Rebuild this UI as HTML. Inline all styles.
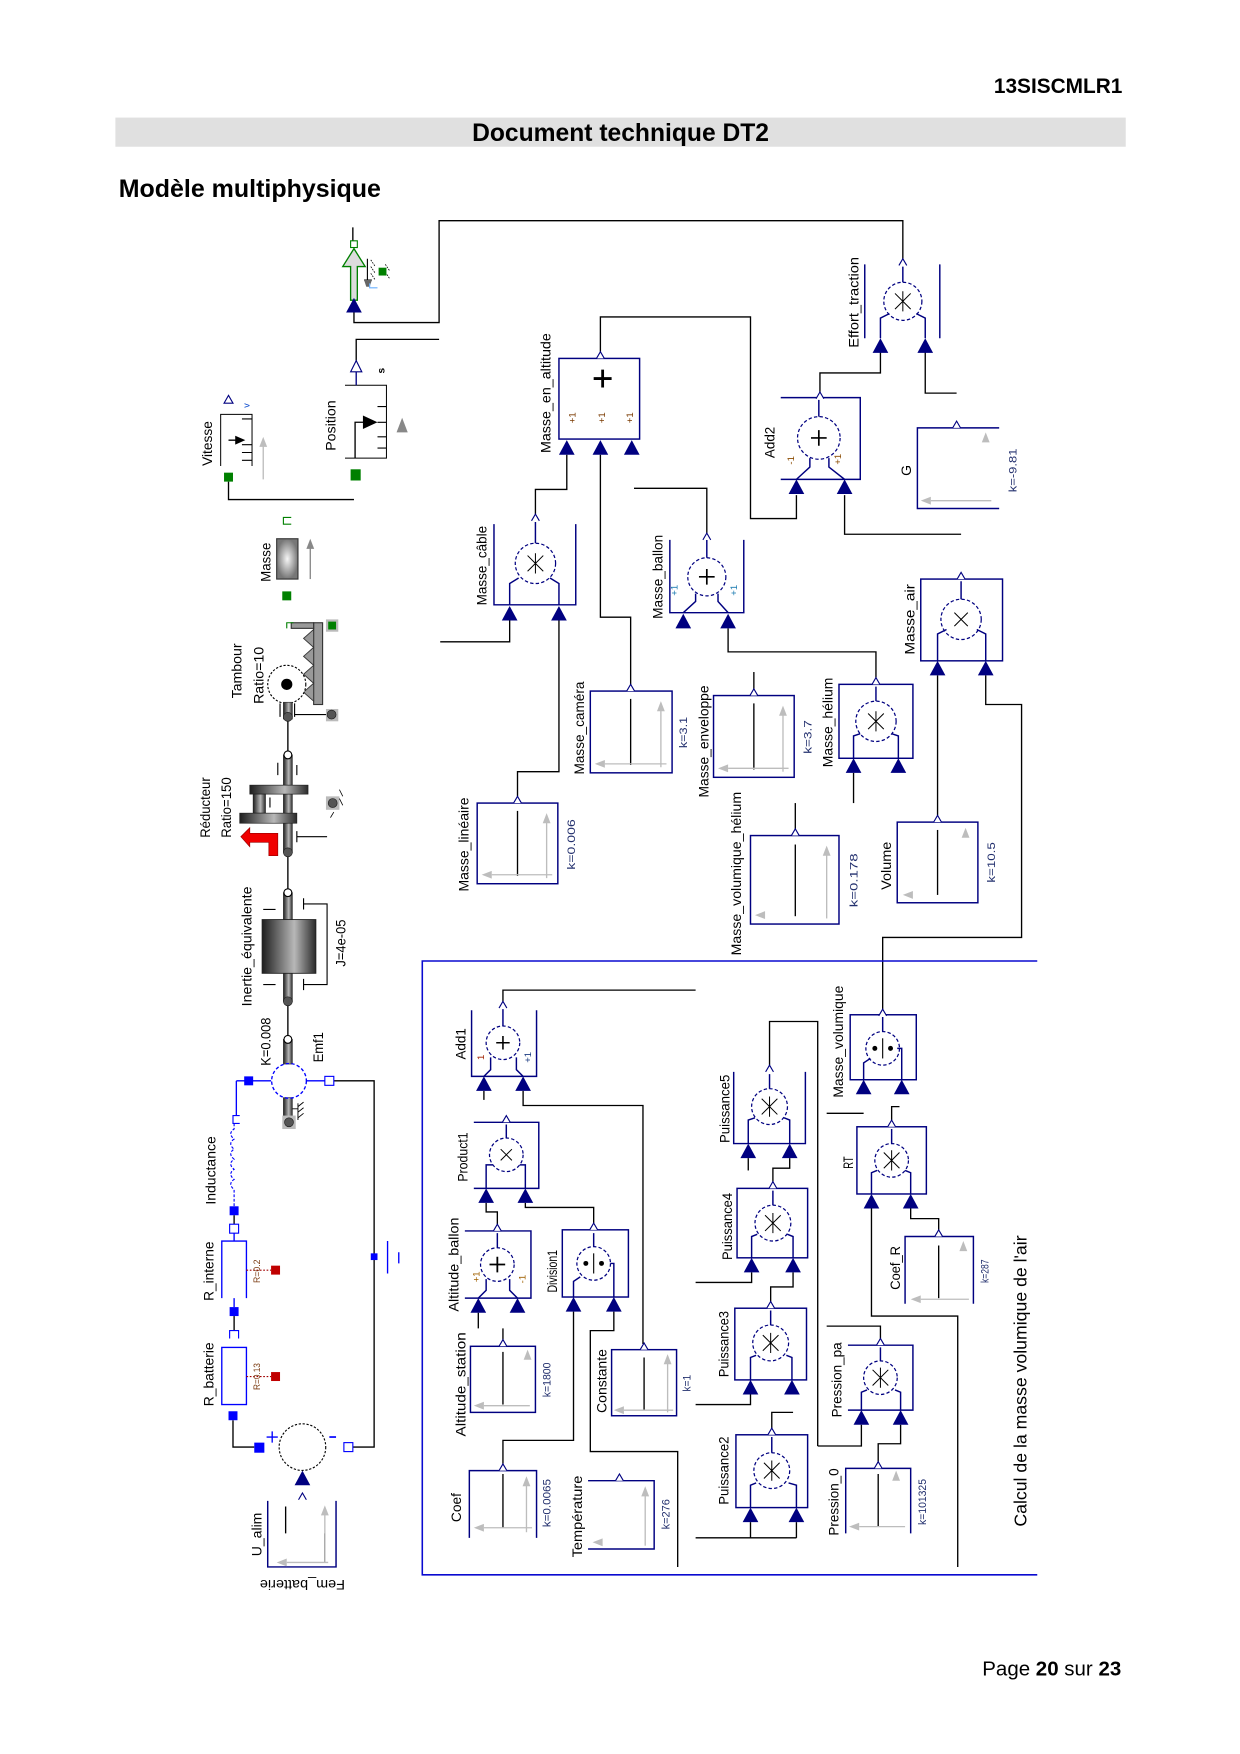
<!DOCTYPE html>
<html><head><meta charset="utf-8"><style>
html,body{margin:0;padding:0;background:#fff}
svg{display:block}
text{font-family:"Liberation Sans","DejaVu Sans",sans-serif}
.lb{font-size:12.5px;fill:#000}
.kb{font-size:10px;fill:#23306e}
.sm{font-size:8.5px}
.w{fill:none;stroke:#000;stroke-width:1.2}
.n{fill:none;stroke:#000080;stroke-width:1.3}
.nc{fill:#fff;stroke:#000080;stroke-width:1.1;stroke-dasharray:3 2}
.sy{fill:none;stroke:#000;stroke-width:.9}
.g{fill:none;stroke:#bdbdbd;stroke-width:1.2}
</style></head><body>
<svg width="1240" height="1754" viewBox="0 0 1107 1566" preserveAspectRatio="none" xmlns="http://www.w3.org/2000/svg">
<defs>
<linearGradient id="cyl" x1="0" x2="1" y1="0" y2="0"><stop offset="0" stop-color="#1e1e1e"/><stop offset=".6" stop-color="#b8b8b8"/><stop offset="1" stop-color="#2a2a2a"/></linearGradient>
<radialGradient id="rg"><stop offset="0" stop-color="#f6f6f6"/><stop offset="1" stop-color="#777"/></radialGradient>
<path id="ti" d="M0,0 L-7,13 L7,13 Z" fill="#000080"/>
<path id="to" d="M-3.5,3 L0,-3 L3.5,3" fill="#fff" stroke="#000080" stroke-width="1"/>
<path id="gu" d="M0,0 L-3.5,9 L3.5,9 Z" fill="#bdbdbd"/>
<path id="gl" d="M0,0 L9,-3.5 L9,3.5 Z" fill="#bdbdbd"/>
</defs>

<!-- header -->
<text x="1002" y="83" text-anchor="end" font-weight="bold" font-size="18.6">13SISCMLR1</text>
<rect x="103" y="105" width="902" height="26" fill="#e0e0e0"/>
<text x="554" y="126" text-anchor="middle" font-weight="bold" font-size="22">Document technique DT2</text>
<text x="106" y="176" font-weight="bold" font-size="22.3">Modèle multiphysique</text>
<text x="1001" y="1496" text-anchor="end" font-size="18.3">Page <tspan font-weight="bold">20</tspan> sur <tspan font-weight="bold">23</tspan></text>

<!-- ============ wires (black) ============ -->
<g class="w">
<path d="M316,278V288H392V197H806V234"/>
<path d="M318,322V303H392"/>
<path d="M204,430V446H316"/>
<path d="M455,554V573H393"/>
<path d="M499,554V689H462V711"/>
<path d="M506,406V437H478V459"/>
<path d="M536,406V551H563V612"/>
<path d="M566,436H631V476"/>
<path d="M650,561V582H782V605"/>
<path d="M536,314V283H670V463H711V442"/>
<path d="M732,350V333H786V314"/>
<path d="M754,442V477H858"/>
<path d="M826,314V351H854"/>
<path d="M837,603V728"/>
<path d="M880,603V629H912V837H788V901"/>
<path d="M762,690V717"/>
<path d="M673,600V616"/>
<path d="M710,717V741"/>
<!-- frame area -->
<path d="M449,894V884H621"/>
<path d="M432,974V982"/>
<path d="M467,974V987H574V1200"/>
<path d="M434,1074V1082H444V1093"/>
<path d="M469,1074V1078H530V1092"/>
<path d="M427,1172V1186"/>
<path d="M449,1186V1196"/>
<path d="M512,1171V1286H449V1307"/>
<path d="M548,1171V1188H527V1296H605V1399"/>
<path d="M687,951V912H730V1291"/>
<path d="M668,1034V1045"/>
<path d="M705,1034V1043H690V1055"/>
<path d="M671,1136V1145H621"/>
<path d="M708,1136V1149H688V1162"/>
<path d="M670,1245V1254H621"/>
<path d="M689,1275V1261H708"/>
<path d="M670,1359V1373M711,1359V1373M621,1373H711"/>
<path d="M738,994H771"/>
<path d="M796,1000V988H803"/>
<path d="M778,1079V1175H855V1399"/>
<path d="M813,1079V1088H838V1098"/>
<path d="M786,1195V1184H738"/>
<path d="M769,1272V1291H730"/>
<path d="M804,1272V1289H784V1305"/>
<!-- left electrical -->
<path d="M298,965H334V1292H315"/>
<path d="M208,1268V1292H227"/>
</g>

<!-- blue frame -->
<path d="M926,858H377V1406H926" fill="none" stroke="#0a0ad0" stroke-width="1.4"/>
<text transform="translate(911,1233) rotate(-90)" text-anchor="middle" dy=".35em" font-size="16" textLength="260" lengthAdjust="spacingAndGlyphs">Calcul de la masse volumique de l'air</text>

<!-- ============ force source / sensors ============ -->
<path d="M315,203V215" class="w"/>
<rect x="313" y="215" width="6" height="6" fill="#fff" stroke="#008000" stroke-width="1"/>
<polygon points="316,222 326,238 319,238 319,268 313,268 313,238 306,238" fill="#dcdcdc" stroke="#008000" stroke-width="1.2"/>
<use href="#ti" x="316" y="266"/>
<path d="M328,231V250M325,250H332" stroke="#000" stroke-width="1" fill="none"/>
<polygon points="325,250 332,250 330,256 327,256" fill="#666"/>
<path d="M331,232l4,6M331,238l4,6M331,244l4,6M344,236l4,6M344,243l4,6" stroke="#000" stroke-width=".7" stroke-dasharray="1.5 1"/>
<rect x="338" y="239" width="7" height="7" fill="#008000"/>
<path d="M330,253V257H337" stroke="#6ab0ff" stroke-width="1" fill="none"/>

<!-- Position -->
<path d="M308,344H345V409H308" class="sy" stroke-width="1.2"/>
<path d="M313,332L318,322L323,332Z" fill="#fff" stroke="#000080" stroke-width="1"/>
<path d="M318,332V344" stroke="#000080" stroke-width="1.2"/>
<path d="M317,409V377H326" stroke="#000" stroke-width="1.2" fill="none"/>
<polygon points="324,371 337,377 324,383" fill="#000"/>
<path d="M337,363H345M337,377H345M337,390H345M337,400H345" stroke="#000" stroke-width="1"/>
<polygon points="359,373 364,386 354,386" fill="#888"/>
<rect x="313" y="419" width="9" height="10" fill="#008000"/>
<text transform="translate(340,331) rotate(-90)" text-anchor="middle" dy=".35em" font-size="9" font-weight="bold">s</text>
<text transform="translate(295,380) rotate(-90)" text-anchor="middle" dy=".35em" class="lb" textLength="45" lengthAdjust="spacingAndGlyphs">Position</text>

<!-- Vitesse -->
<path d="M197,416V370H225V416" class="sy" stroke-width="1.2"/>
<path d="M216,374H225M216,397H225M216,404H225M216,411H225" stroke="#000" stroke-width="1"/>
<path d="M204,393H212" stroke="#000" stroke-width="1.2"/>
<polygon points="210,389 219,393 210,397" fill="#000"/>
<path d="M235,428V398" class="g"/>
<use href="#gu" x="235" y="390" fill="#999"/>
<path d="M200,360L204,353L208,360Z" fill="#fff" stroke="#000080" stroke-width="1"/>
<text transform="translate(220,362) rotate(-90)" text-anchor="middle" dy=".35em" font-size="8" fill="#0044cc">v</text>
<rect x="200" y="422" width="8" height="8" fill="#008000"/>
<text transform="translate(185,396) rotate(-90)" text-anchor="middle" dy=".35em" class="lb" textLength="40" lengthAdjust="spacingAndGlyphs">Vitesse</text>

<!-- Masse sliding -->
<path d="M260,462H253V468H260" stroke="#008000" stroke-width="1" fill="none"/>
<rect x="247" y="481" width="19" height="36" fill="url(#rg)" stroke="#333" stroke-width="1"/>
<path d="M277,517V489" stroke="#888" stroke-width="1.2"/>
<polygon points="277,481 273.5,490 280.5,490" fill="#888"/>
<rect x="252" y="528" width="8" height="8" fill="#008000"/>
<text transform="translate(237,502) rotate(-90)" text-anchor="middle" dy=".35em" class="lb" textLength="35" lengthAdjust="spacingAndGlyphs">Masse</text>

<!-- Tambour -->
<rect x="280" y="556" width="8" height="73" fill="#999" stroke="#333" stroke-width="1"/>
<rect x="260" y="556" width="20" height="5" fill="#999" stroke="#333" stroke-width="1"/>
<path d="M262,556H256V561" stroke="#008000" stroke-width="1" fill="none"/>
<polygon points="280,562 271,570 280,578 271,586 280,594 271,602 280,610 271,618 280,626" fill="#999" stroke="#333" stroke-width=".8"/>
<rect x="291" y="553" width="11" height="11" fill="#bbb"/>
<rect x="293" y="555" width="7" height="7" fill="#008000"/>
<circle cx="256" cy="611" r="17" fill="#fff" stroke="#000" stroke-width="1" stroke-dasharray="2 1.5"/>
<circle cx="256" cy="611" r="5" fill="#000"/>
<rect x="253" y="627" width="8" height="15" fill="url(#cyl)" stroke="#333" stroke-width=".6"/>
<circle cx="257" cy="640" r="4" fill="#555" stroke="#222" stroke-width=".6"/>
<path d="M250,628V640M263,628V640M263,638H292" stroke="#000" stroke-width="1"/>
<rect x="291" y="633" width="11" height="11" fill="#bbb"/>
<circle cx="296" cy="638" r="4" fill="#555" stroke="#222" stroke-width=".6"/>
<path d="M257,644V674" class="w"/>
<text transform="translate(211,599) rotate(-90)" text-anchor="middle" dy=".35em" class="lb" textLength="49" lengthAdjust="spacingAndGlyphs">Tambour</text>
<text transform="translate(231,603) rotate(-90)" text-anchor="middle" dy=".35em" class="lb" textLength="51" lengthAdjust="spacingAndGlyphs">Ratio=10</text>

<!-- Réducteur -->
<rect x="253" y="674" width="8" height="87" fill="url(#cyl)" stroke="#333" stroke-width=".6"/>
<circle cx="257" cy="674" r="3.5" fill="#fff" stroke="#000" stroke-width="1"/>
<rect x="223" y="701" width="52" height="8" fill="url(#cyl)" stroke="#222" stroke-width=".6"/>
<rect x="226" y="709" width="11" height="17" fill="url(#cyl)" stroke="#222" stroke-width=".6"/>
<rect x="214" y="726" width="51" height="9" fill="url(#cyl)" stroke="#222" stroke-width=".6"/>
<path d="M248,681V692M265,683V692M241,712V721M265,747H292M265,742V752" stroke="#000" stroke-width="1"/>
<rect x="291" y="711" width="12" height="12" fill="#bbb"/>
<circle cx="297" cy="717" r="4" fill="#555" stroke="#222" stroke-width=".6"/>
<path d="M303,705l3,6M303,713l3,6M298,725l-3,5" stroke="#000" stroke-width=".7"/>
<polygon points="240,764 248,764 248,744 223,744 223,739 215,747 223,756 223,752 240,752" fill="#f00000" stroke="#900" stroke-width=".6"/>
<circle cx="257" cy="761" r="4" fill="#555" stroke="#222" stroke-width=".6"/>
<path d="M257,765V794" class="w"/>
<text transform="translate(183,721) rotate(-90)" text-anchor="middle" dy=".35em" class="lb" textLength="54" lengthAdjust="spacingAndGlyphs">Réducteur</text>
<text transform="translate(202,721) rotate(-90)" text-anchor="middle" dy=".35em" class="lb" textLength="54" lengthAdjust="spacingAndGlyphs">Ratio=150</text>

<!-- Inertie -->
<rect x="253" y="797" width="8" height="97" fill="url(#cyl)" stroke="#333" stroke-width=".6"/>
<circle cx="257" cy="797" r="3.5" fill="#fff" stroke="#000" stroke-width="1"/>
<rect x="234" y="821" width="48" height="48" fill="url(#cyl)" stroke="#222" stroke-width=".8"/>
<path d="M235,812H246M235,879H246M271,807H292V879H271M271,802V812M271,874V884" stroke="#000" stroke-width="1" fill="none"/>
<circle cx="257" cy="894" r="4" fill="#555" stroke="#222" stroke-width=".6"/>
<path d="M257,898V925" class="w"/>
<text transform="translate(220,845) rotate(-90)" text-anchor="middle" dy=".35em" class="lb" textLength="107" lengthAdjust="spacingAndGlyphs">Inertie_équivalente</text>
<text transform="translate(304,842) rotate(-90)" text-anchor="middle" dy=".35em" class="lb" textLength="42" lengthAdjust="spacingAndGlyphs">J=4e-05</text>

<!-- Emf -->
<rect x="253" y="928" width="8" height="22" fill="url(#cyl)" stroke="#333" stroke-width=".6"/>
<circle cx="257" cy="928" r="3.5" fill="#fff" stroke="#000" stroke-width="1"/>
<rect x="253" y="980" width="8" height="20" fill="url(#cyl)" stroke="#333" stroke-width=".6"/>
<rect x="252" y="996" width="12" height="12" fill="#bbb"/>
<circle cx="258" cy="1002" r="4" fill="#555" stroke="#222" stroke-width=".6"/>
<path d="M266,985V1000M266,988l5,-4M266,993l5,-4M266,998l5,-4M261,990H266" stroke="#000" stroke-width=".8"/>
<circle cx="258" cy="965" r="15.5" fill="none" stroke="#0000ff" stroke-width="1.2" stroke-dasharray="3 2"/>
<path d="M211,965H242M274,965H290M211,965V996" stroke="#0000ff" stroke-width="1.2" fill="none"/>
<rect x="218" y="961" width="8" height="8" fill="#0000ff"/>
<rect x="290" y="961" width="8" height="8" fill="#fff" stroke="#0000ff" stroke-width="1"/>
<text transform="translate(237,930) rotate(-90)" text-anchor="middle" dy=".35em" class="lb" textLength="43" lengthAdjust="spacingAndGlyphs">K=0.008</text>
<text transform="translate(284,935) rotate(-90)" text-anchor="middle" dy=".35em" class="lb" textLength="27" lengthAdjust="spacingAndGlyphs">Emf1</text>

<!-- Inductance / resistors -->
<path d="M214,996H208V1003H214" stroke="#0000ff" stroke-width="1" fill="none"/>
<path d="M209,1003V1008q-6,4 0,9q-6,4 0,9q-6,4 0,9q-6,4 0,9q-6,4 0,9q-6,4 0,9V1077" stroke="#0000ff" stroke-width="1" fill="none" stroke-dasharray="2.5 1.5"/>
<rect x="205" y="1077" width="8" height="8" fill="#0000ff"/>
<path d="M209,1085V1093" stroke="#000" stroke-width="1.2"/>
<rect x="205" y="1093" width="8" height="8" fill="#fff" stroke="#0000ff" stroke-width="1"/>
<path d="M209,1101V1108M198,1159V1108H220V1159" stroke="#0000ff" stroke-width="1.2" fill="none"/>
<path d="M220,1134H242" stroke="#a00000" stroke-width="1" stroke-dasharray="1.5 1.5"/>
<rect x="242" y="1130" width="8" height="8" fill="#c00000"/>
<path d="M209,1159V1167" stroke="#0000ff" stroke-width="1.2"/>
<rect x="205" y="1167" width="8" height="8" fill="#0000ff"/>
<path d="M209,1175V1188" stroke="#000" stroke-width="1.2"/>
<path d="M205,1195V1188H213V1195" stroke="#0000ff" stroke-width="1" fill="none"/>
<rect x="198" y="1203" width="22" height="51" fill="none" stroke="#0000ff" stroke-width="1.2"/>
<path d="M220,1229H242" stroke="#a00000" stroke-width="1" stroke-dasharray="1.5 1.5"/>
<rect x="242" y="1225" width="8" height="8" fill="#c00000"/>
<rect x="204" y="1260" width="8" height="8" fill="#0000ff"/>
<rect x="227" y="1288" width="9" height="9" fill="#0000ff"/>
<circle cx="270" cy="1292" r="20.8" fill="none" stroke="#000" stroke-width="1" stroke-dasharray="2 1.5"/>
<path d="M238,1283H248M243,1278V1288" stroke="#0000ff" stroke-width="1.2"/>
<path d="M294,1283H300" stroke="#0000ff" stroke-width="1.5"/>
<rect x="307" y="1288" width="8" height="8" fill="#fff" stroke="#0000ff" stroke-width="1"/>
<rect x="331" y="1119" width="6" height="6" fill="#0000ff"/>
<path d="M346,1108V1137M356,1118V1128" stroke="#0000ff" stroke-width="1.2"/>
<use href="#ti" x="270" y="1313"/>
<use href="#to" x="270" y="1336"/>
<text transform="translate(188,1045) rotate(-90)" text-anchor="middle" dy=".35em" class="lb" textLength="61" lengthAdjust="spacingAndGlyphs">Inductance</text>
<text transform="translate(186,1135) rotate(-90)" text-anchor="middle" dy=".35em" class="lb" textLength="53" lengthAdjust="spacingAndGlyphs">R_interne</text>
<text transform="translate(229,1135) rotate(-90)" text-anchor="middle" dy=".35em" font-size="8.5" fill="#7a3a10" textLength="21" lengthAdjust="spacingAndGlyphs">R=0.2</text>
<text transform="translate(186,1227) rotate(-90)" text-anchor="middle" dy=".35em" class="lb" textLength="57" lengthAdjust="spacingAndGlyphs">R_batterie</text>
<text transform="translate(229,1229) rotate(-90)" text-anchor="middle" dy=".35em" font-size="8.5" fill="#7a3a10" textLength="24" lengthAdjust="spacingAndGlyphs">R=0.13</text>

<!-- U_alim -->
<path d="M239,1340V1399H300V1340" class="n"/>
<path d="M255,1345V1369M290,1369V1395" stroke="#000" stroke-width="1.2"/>
<path d="M290,1395V1352" class="g"/><use href="#gu" x="290" y="1344"/>
<path d="M293,1395H256" class="g"/><use href="#gl" x="247" y="1395"/>
<text transform="translate(229,1370) rotate(-90)" text-anchor="middle" dy=".35em" class="lb" textLength="39" lengthAdjust="spacingAndGlyphs">U_alim</text>
<text transform="translate(270,1415) rotate(180)" text-anchor="middle" dy=".35em" class="lb" textLength="76" lengthAdjust="spacingAndGlyphs">Fem_batterie</text>

<!-- ============ upper blocks ============ -->
<!-- Effort_traction -->
<path d="M772,236V302M839,236V302" class="n"/>
<circle cx="806" cy="269" r="17" class="nc"/>
<path d="M806,260V278M799,262L813,276M813,262L799,276" class="sy"/>
<path d="M786,302V284L794,280M826,302V284L818,280M806,252V238" class="n" stroke-width="1.1"/>
<use href="#to" x="806" y="234"/>
<use href="#ti" x="786" y="302"/><use href="#ti" x="826" y="302"/>
<text transform="translate(762,270) rotate(-90)" text-anchor="middle" dy=".35em" class="lb" textLength="81" lengthAdjust="spacingAndGlyphs">Effort_traction</text>

<!-- Add2 -->
<path d="M697,355H768V428H697" class="n"/>
<circle cx="731" cy="391" r="19" class="nc"/>
<path d="M724,391H738M731,384V398" stroke="#000" stroke-width="1.5"/>
<path d="M731,372V357M723,409V417L711,428M740,409V417L754,428" class="n" stroke-width="1.1"/>
<use href="#to" x="732" y="353"/>
<use href="#ti" x="711" y="428"/><use href="#ti" x="754" y="428"/>
<text transform="translate(687,395) rotate(-90)" text-anchor="middle" dy=".35em" class="lb" textLength="28" lengthAdjust="spacingAndGlyphs">Add2</text>
<text transform="translate(706,411) rotate(-90)" text-anchor="middle" dy=".35em" class="sm" fill="#8a4a00">-1</text>
<text transform="translate(748,410) rotate(-90)" text-anchor="middle" dy=".35em" class="sm" fill="#8a4a00">+1</text>

<!-- G -->
<path d="M892,382H819V454H892" class="n"/>
<use href="#gu" x="880" y="386"/>
<path d="M885,447H831" class="g"/><use href="#gl" x="822" y="447"/>
<use href="#to" x="854" y="379"/>
<text transform="translate(809,420) rotate(-90)" text-anchor="middle" dy=".35em" class="lb">G</text>
<text transform="translate(904,420) rotate(-90)" text-anchor="middle" dy=".35em" class="kb" textLength="39" lengthAdjust="spacingAndGlyphs">k=-9.81</text>

<!-- Masse_en_altitude -->
<rect x="499" y="320" width="72" height="72" class="n"/>
<path d="M530,338H546M538,330V346" stroke="#000" stroke-width="2.5"/>
<use href="#to" x="536" y="317"/>
<use href="#ti" x="506" y="393"/><use href="#ti" x="536" y="393"/><use href="#ti" x="564" y="393"/>
<text transform="translate(511,373) rotate(-90)" text-anchor="middle" dy=".35em" class="sm" fill="#7a3a00">+1</text>
<text transform="translate(537,373) rotate(-90)" text-anchor="middle" dy=".35em" class="sm" fill="#7a3a00">+1</text>
<text transform="translate(562,373) rotate(-90)" text-anchor="middle" dy=".35em" class="sm" fill="#7a3a00">+1</text>
<text transform="translate(487,351) rotate(-90)" text-anchor="middle" dy=".35em" class="lb" textLength="107" lengthAdjust="spacingAndGlyphs">Masse_en_altitude</text>

<!-- Masse_câble -->
<path d="M441,468V540H514V468" class="n"/>
<circle cx="478" cy="503" r="18" class="nc"/>
<path d="M478,494V512M471,496L485,510M485,496L471,510" class="sy"/>
<path d="M478,485V466M455,540V521L463,516M499,540V521L491,516" class="n" stroke-width="1.1"/>
<use href="#to" x="478" y="462"/>
<use href="#ti" x="455" y="541"/><use href="#ti" x="499" y="541"/>
<text transform="translate(430,505) rotate(-90)" text-anchor="middle" dy=".35em" class="lb" textLength="71" lengthAdjust="spacingAndGlyphs">Masse_câble</text>

<!-- Masse_ballon -->
<path d="M598,482V547H664V482" class="n"/>
<circle cx="631" cy="515" r="17" class="nc"/>
<path d="M624,515H638M631,508V522" stroke="#000" stroke-width="1.5"/>
<path d="M631,498V482M610,547L621,537V530M650,547L641,537V530" class="n" stroke-width="1.1"/>
<use href="#to" x="631" y="479"/>
<use href="#ti" x="610" y="548"/><use href="#ti" x="650" y="548"/>
<text transform="translate(602,527) rotate(-90)" text-anchor="middle" dy=".35em" class="sm" fill="#1a7ab0">+1</text>
<text transform="translate(655,527) rotate(-90)" text-anchor="middle" dy=".35em" class="sm" fill="#1a7ab0">+1</text>
<text transform="translate(587,515) rotate(-90)" text-anchor="middle" dy=".35em" class="lb" textLength="75" lengthAdjust="spacingAndGlyphs">Masse_ballon</text>

<!-- Masse_air -->
<rect x="822" y="517" width="73" height="73" class="n"/>
<circle cx="858" cy="553" r="18" class="nc"/>
<path d="M852,547L864,559M864,547L852,559" class="sy"/>
<path d="M858,535V519M837,590V566L845,562M880,590V566L872,562" class="n" stroke-width="1.1"/>
<use href="#to" x="858" y="514"/>
<use href="#ti" x="837" y="590"/><use href="#ti" x="880" y="590"/>
<text transform="translate(812,553) rotate(-90)" text-anchor="middle" dy=".35em" class="lb" textLength="63" lengthAdjust="spacingAndGlyphs">Masse_air</text>

<!-- Masse_hélium -->
<rect x="749" y="611" width="66" height="66" class="n"/>
<circle cx="782" cy="644" r="18" class="nc"/>
<path d="M782,635V653M775,637L789,651M789,637L775,651" class="sy"/>
<path d="M782,626V613M762,677V657L768,655M802,677V657L796,655" class="n" stroke-width="1.1"/>
<use href="#to" x="782" y="608"/>
<use href="#ti" x="762" y="677"/><use href="#ti" x="802" y="677"/>
<text transform="translate(739,645) rotate(-90)" text-anchor="middle" dy=".35em" class="lb" textLength="80" lengthAdjust="spacingAndGlyphs">Masse_hélium</text>

<!-- Masse_caméra -->
<rect x="527" y="617" width="73" height="73" class="n"/>
<path d="M563,624V683" stroke="#000" stroke-width="1.2"/>
<path d="M590,685V634" class="g"/><use href="#gu" x="590" y="626"/>
<path d="M595,682H540" class="g"/><use href="#gl" x="531" y="682"/>
<use href="#to" x="563" y="614"/>
<text transform="translate(517,650) rotate(-90)" text-anchor="middle" dy=".35em" class="lb" textLength="83" lengthAdjust="spacingAndGlyphs">Masse_caméra</text>
<text transform="translate(610,654) rotate(-90)" text-anchor="middle" dy=".35em" class="kb" textLength="28" lengthAdjust="spacingAndGlyphs">k=3.1</text>

<!-- Masse_enveloppe -->
<rect x="637" y="621" width="72" height="73" class="n"/>
<path d="M673,628V687" stroke="#000" stroke-width="1.2"/>
<path d="M699,689V638" class="g"/><use href="#gu" x="699" y="630"/>
<path d="M704,686H650" class="g"/><use href="#gl" x="641" y="686"/>
<use href="#to" x="673" y="618"/>
<text transform="translate(628,662) rotate(-90)" text-anchor="middle" dy=".35em" class="lb" textLength="100" lengthAdjust="spacingAndGlyphs">Masse_enveloppe</text>
<text transform="translate(721,658) rotate(-90)" text-anchor="middle" dy=".35em" class="kb" textLength="30" lengthAdjust="spacingAndGlyphs">k=3.7</text>

<!-- Masse_linéaire -->
<rect x="426" y="717" width="72" height="72" class="n"/>
<path d="M462,724V782" stroke="#000" stroke-width="1.2"/>
<path d="M488,784V734" class="g"/><use href="#gu" x="488" y="726"/>
<path d="M493,781H439" class="g"/><use href="#gl" x="430" y="781"/>
<use href="#to" x="462" y="714"/>
<text transform="translate(414,754) rotate(-90)" text-anchor="middle" dy=".35em" class="lb" textLength="84" lengthAdjust="spacingAndGlyphs">Masse_linéaire</text>
<text transform="translate(510,754) rotate(-90)" text-anchor="middle" dy=".35em" class="kb" textLength="45" lengthAdjust="spacingAndGlyphs">k=0.006</text>

<!-- Masse_volumique_hélium -->
<rect x="670" y="746" width="79" height="79" class="n"/>
<path d="M710,754V818" stroke="#000" stroke-width="1.2"/>
<path d="M738,820V763" class="g"/><use href="#gu" x="738" y="755"/>
<use href="#gl" x="674" y="817"/>
<use href="#to" x="710" y="743"/>
<text transform="translate(657,780) rotate(-90)" text-anchor="middle" dy=".35em" class="lb" textLength="146" lengthAdjust="spacingAndGlyphs">Masse_volumique_hélium</text>
<text transform="translate(762,786) rotate(-90)" text-anchor="middle" dy=".35em" class="kb" textLength="48" lengthAdjust="spacingAndGlyphs">k=0.178</text>

<!-- Volume -->
<rect x="801" y="734" width="72" height="72" class="n"/>
<path d="M837,741V799" stroke="#000" stroke-width="1.2"/>
<use href="#gu" x="862" y="739"/>
<use href="#gl" x="806" y="799"/>
<use href="#to" x="837" y="731"/>
<text transform="translate(791,773) rotate(-90)" text-anchor="middle" dy=".35em" class="lb" textLength="43" lengthAdjust="spacingAndGlyphs">Volume</text>
<text transform="translate(885,770) rotate(-90)" text-anchor="middle" dy=".35em" class="kb" textLength="36" lengthAdjust="spacingAndGlyphs">k=10.5</text>

<!-- ============ frame blocks ============ -->
<!-- Add1 -->
<path d="M421,902V961H479V902" class="n"/>
<circle cx="449" cy="931" r="15" class="nc"/>
<path d="M443,931H455M449,925V937" stroke="#000" stroke-width="1.4"/>
<path d="M449,916V901M432,961L438,955V944M467,961L461,955V944" class="n" stroke-width="1.1"/>
<use href="#to" x="449" y="897"/>
<use href="#ti" x="432" y="961"/><use href="#ti" x="467" y="961"/>
<text transform="translate(429,944) rotate(-90)" text-anchor="middle" dy=".35em" class="sm" fill="#a02000">1</text>
<text transform="translate(471,944) rotate(-90)" text-anchor="middle" dy=".35em" class="sm" fill="#1a3a80">+1</text>
<text transform="translate(411,932) rotate(-90)" text-anchor="middle" dy=".35em" class="lb" textLength="28" lengthAdjust="spacingAndGlyphs">Add1</text>

<!-- Product1 -->
<path d="M423,1002H481V1061H423" class="n"/>
<circle cx="452" cy="1031" r="15" class="nc"/>
<path d="M447,1026L457,1036M457,1026L447,1036" class="sy"/>
<path d="M452,1016V1004M434,1061V1040L440,1040M469,1061V1040L464,1040" class="n" stroke-width="1.1"/>
<use href="#to" x="452" y="999"/>
<use href="#ti" x="434" y="1061"/><use href="#ti" x="469" y="1061"/>
<text transform="translate(413,1033) rotate(-90)" text-anchor="middle" dy=".35em" class="lb" textLength="44" lengthAdjust="spacingAndGlyphs">Product1</text>

<!-- Altitude_ballon -->
<path d="M415,1099H474V1159H415" class="n"/>
<circle cx="444" cy="1129" r="15" class="nc"/>
<path d="M437,1129H451M444,1122V1136" stroke="#000" stroke-width="1.6"/>
<path d="M444,1114V1101M427,1159L434,1152V1142M462,1159L455,1152V1142" class="n" stroke-width="1.1"/>
<use href="#to" x="444" y="1096"/>
<use href="#ti" x="427" y="1159"/><use href="#ti" x="462" y="1159"/>
<text transform="translate(425,1140) rotate(-90)" text-anchor="middle" dy=".35em" class="sm" fill="#a06000">+1</text>
<text transform="translate(466,1142) rotate(-90)" text-anchor="middle" dy=".35em" class="sm" fill="#a06000">-1</text>
<text transform="translate(405,1129) rotate(-90)" text-anchor="middle" dy=".35em" class="lb" textLength="84" lengthAdjust="spacingAndGlyphs">Altitude_ballon</text>

<!-- Division1 -->
<rect x="502" y="1098" width="59" height="60" class="n"/>
<circle cx="530" cy="1128" r="15" class="nc"/>
<path d="M530,1119V1137" stroke="#000" stroke-width="1"/>
<circle cx="523" cy="1128" r="2.2" fill="#000"/><circle cx="537" cy="1128" r="2.2" fill="#000"/>
<path d="M530,1113V1101M512,1158V1144L518,1140M548,1158V1128L545,1128" class="n" stroke-width="1.1"/>
<use href="#to" x="530" y="1095"/>
<use href="#ti" x="512" y="1158"/><use href="#ti" x="548" y="1158"/>
<text transform="translate(493,1135) rotate(-90)" text-anchor="middle" dy=".35em" class="lb" textLength="38" lengthAdjust="spacingAndGlyphs">Division1</text>

<!-- Altitude_station -->
<rect x="420" y="1202" width="58" height="59" class="n"/>
<path d="M449,1207V1254" stroke="#000" stroke-width="1.2"/>
<use href="#gu" x="471" y="1205"/>
<path d="M473,1255H432" class="g"/><use href="#gl" x="423" y="1255"/>
<use href="#to" x="449" y="1199"/>
<text transform="translate(411,1236) rotate(-90)" text-anchor="middle" dy=".35em" class="lb" textLength="93" lengthAdjust="spacingAndGlyphs">Altitude_station</text>
<text transform="translate(488,1232) rotate(-90)" text-anchor="middle" dy=".35em" class="kb" font-size="9" textLength="31" lengthAdjust="spacingAndGlyphs">k=1800</text>

<!-- Constante -->
<rect x="546" y="1205" width="58" height="59" class="n"/>
<path d="M575,1212V1259" stroke="#000" stroke-width="1.2"/>
<path d="M596,1261V1217" class="g"/><use href="#gu" x="596" y="1209"/>
<path d="M601,1259H557" class="g"/><use href="#gl" x="548" y="1259"/>
<use href="#to" x="575" y="1202"/>
<text transform="translate(537,1233) rotate(-90)" text-anchor="middle" dy=".35em" class="lb" textLength="57" lengthAdjust="spacingAndGlyphs">Constante</text>
<text transform="translate(613,1235) rotate(-90)" text-anchor="middle" dy=".35em" class="kb" font-size="9" textLength="15" lengthAdjust="spacingAndGlyphs">k=1</text>

<!-- Coef -->
<path d="M419,1373V1313H479V1373" class="n"/>
<path d="M449,1316V1364" stroke="#000" stroke-width="1.2"/>
<path d="M470,1368V1326" class="g"/><use href="#gu" x="470" y="1318"/>
<path d="M475,1364H432" class="g"/><use href="#gl" x="423" y="1364"/>
<use href="#to" x="449" y="1310"/>
<text transform="translate(407,1346) rotate(-90)" text-anchor="middle" dy=".35em" class="lb" textLength="26" lengthAdjust="spacingAndGlyphs">Coef</text>
<text transform="translate(488,1342) rotate(-90)" text-anchor="middle" dy=".35em" class="kb" font-size="9" textLength="43" lengthAdjust="spacingAndGlyphs">k=0.0065</text>

<!-- Température -->
<path d="M525,1322H584V1383H525" class="n"/>
<path d="M576,1380V1335" class="g"/><use href="#gu" x="576" y="1327"/>
<use href="#gl" x="529" y="1377"/>
<use href="#to" x="553" y="1319"/>
<text transform="translate(515,1354) rotate(-90)" text-anchor="middle" dy=".35em" class="lb" textLength="73" lengthAdjust="spacingAndGlyphs">Température</text>
<text transform="translate(594,1352) rotate(-90)" text-anchor="middle" dy=".35em" class="kb" font-size="9" textLength="27" lengthAdjust="spacingAndGlyphs">k=276</text>

<!-- Puissance5 -->
<path d="M655,957V1021H719V957" class="n"/>
<circle cx="687" cy="988" r="16" class="nc"/>
<path d="M687,979V997M680,981L694,995M694,981L680,995" class="sy"/>
<path d="M687,972V959M668,1021V1000L674,998M705,1021V1000L700,998" class="n" stroke-width="1.1"/>
<use href="#to" x="687" y="954"/>
<use href="#ti" x="668" y="1021"/><use href="#ti" x="705" y="1021"/>
<text transform="translate(647,990) rotate(-90)" text-anchor="middle" dy=".35em" class="lb" textLength="61" lengthAdjust="spacingAndGlyphs">Puissance5</text>

<!-- Puissance4 -->
<rect x="658" y="1061" width="63" height="62" class="n"/>
<circle cx="690" cy="1092" r="16" class="nc"/>
<path d="M690,1083V1101M683,1085L697,1099M697,1085L683,1099" class="sy"/>
<path d="M690,1076V1063M671,1123V1104L676,1102M708,1123V1104L703,1102" class="n" stroke-width="1.1"/>
<use href="#to" x="690" y="1058"/>
<use href="#ti" x="671" y="1123"/><use href="#ti" x="708" y="1123"/>
<text transform="translate(649,1095) rotate(-90)" text-anchor="middle" dy=".35em" class="lb" textLength="60" lengthAdjust="spacingAndGlyphs">Puissance4</text>

<!-- Puissance3 -->
<rect x="656" y="1168" width="64" height="64" class="n"/>
<circle cx="688" cy="1199" r="16" class="nc"/>
<path d="M688,1190V1208M681,1192L695,1206M695,1192L681,1206" class="sy"/>
<path d="M688,1183V1170M670,1232V1212L675,1210M707,1232V1212L702,1210" class="n" stroke-width="1.1"/>
<use href="#to" x="688" y="1165"/>
<use href="#ti" x="670" y="1232"/><use href="#ti" x="707" y="1232"/>
<text transform="translate(646,1200) rotate(-90)" text-anchor="middle" dy=".35em" class="lb" textLength="59" lengthAdjust="spacingAndGlyphs">Puissance3</text>

<!-- Puissance2 -->
<rect x="657" y="1281" width="64" height="65" class="n"/>
<circle cx="689" cy="1313" r="16" class="nc"/>
<path d="M689,1304V1322M682,1306L696,1320M696,1306L682,1320" class="sy"/>
<path d="M689,1297V1283M670,1346V1326L675,1324M711,1346V1326L704,1324" class="n" stroke-width="1.1"/>
<use href="#to" x="689" y="1278"/>
<use href="#ti" x="670" y="1346"/><use href="#ti" x="711" y="1346"/>
<text transform="translate(646,1313) rotate(-90)" text-anchor="middle" dy=".35em" class="lb" textLength="61" lengthAdjust="spacingAndGlyphs">Puissance2</text>

<!-- Masse_volumique -->
<rect x="759" y="906" width="59" height="58" class="n"/>
<circle cx="788" cy="936" r="15" class="nc"/>
<path d="M788,927V945" stroke="#000" stroke-width="1"/>
<circle cx="781" cy="936" r="2.2" fill="#000"/><circle cx="795" cy="936" r="2.2" fill="#000"/>
<path d="M788,921V908M771,964V949L777,945M805,964V936L801,936" class="n" stroke-width="1.1"/>
<use href="#to" x="788" y="904"/>
<use href="#ti" x="771" y="964"/><use href="#ti" x="805" y="964"/>
<text transform="translate(748,930) rotate(-90)" text-anchor="middle" dy=".35em" class="lb" textLength="100" lengthAdjust="spacingAndGlyphs">Masse_volumique</text>

<!-- RT -->
<rect x="765" y="1006" width="62" height="60" class="n"/>
<circle cx="796" cy="1036" r="15" class="nc"/>
<path d="M796,1027V1045M789,1029L803,1043M803,1029L789,1043" class="sy"/>
<path d="M796,1021V1008M778,1066V1047L783,1045M813,1066V1047L808,1045" class="n" stroke-width="1.1"/>
<use href="#to" x="796" y="1003"/>
<use href="#ti" x="778" y="1066"/><use href="#ti" x="813" y="1066"/>
<text transform="translate(757,1038) rotate(-90)" text-anchor="middle" dy=".35em" class="lb" textLength="11" lengthAdjust="spacingAndGlyphs">RT</text>

<!-- Coef_R -->
<path d="M808,1164V1104H869V1164" class="n"/>
<path d="M838,1112V1159" stroke="#000" stroke-width="1.2"/>
<use href="#gu" x="860" y="1108"/>
<path d="M865,1160H822" class="g"/><use href="#gl" x="813" y="1160"/>
<use href="#to" x="838" y="1101"/>
<text transform="translate(799,1132) rotate(-90)" text-anchor="middle" dy=".35em" class="lb" textLength="39" lengthAdjust="spacingAndGlyphs">Coef_R</text>
<text transform="translate(879,1135) rotate(-90)" text-anchor="middle" dy=".35em" class="kb" font-size="9" textLength="21" lengthAdjust="spacingAndGlyphs">k=287</text>

<!-- Pression_pa -->
<path d="M757,1201H815V1259H757" class="n"/>
<circle cx="786" cy="1230" r="15" class="nc"/>
<path d="M786,1221V1239M779,1223L793,1237M793,1223L779,1237" class="sy"/>
<path d="M786,1215V1203M769,1259V1243L774,1241M804,1259V1243L799,1241" class="n" stroke-width="1.1"/>
<use href="#to" x="786" y="1198"/>
<use href="#ti" x="769" y="1259"/><use href="#ti" x="804" y="1259"/>
<text transform="translate(747,1232) rotate(-90)" text-anchor="middle" dy=".35em" class="lb" textLength="67" lengthAdjust="spacingAndGlyphs">Pression_pa</text>

<!-- Pression_0 -->
<path d="M755,1369V1311H813V1369" class="n"/>
<path d="M784,1316V1363" stroke="#000" stroke-width="1.2"/>
<use href="#gu" x="800" y="1313"/>
<path d="M808,1363H767" class="g"/><use href="#gl" x="758" y="1363"/>
<use href="#to" x="784" y="1308"/>
<text transform="translate(744,1341) rotate(-90)" text-anchor="middle" dy=".35em" class="lb" textLength="60" lengthAdjust="spacingAndGlyphs">Pression_0</text>
<text transform="translate(823,1341) rotate(-90)" text-anchor="middle" dy=".35em" class="kb" font-size="9" textLength="41" lengthAdjust="spacingAndGlyphs">k=101325</text>
</svg>
</body></html>
